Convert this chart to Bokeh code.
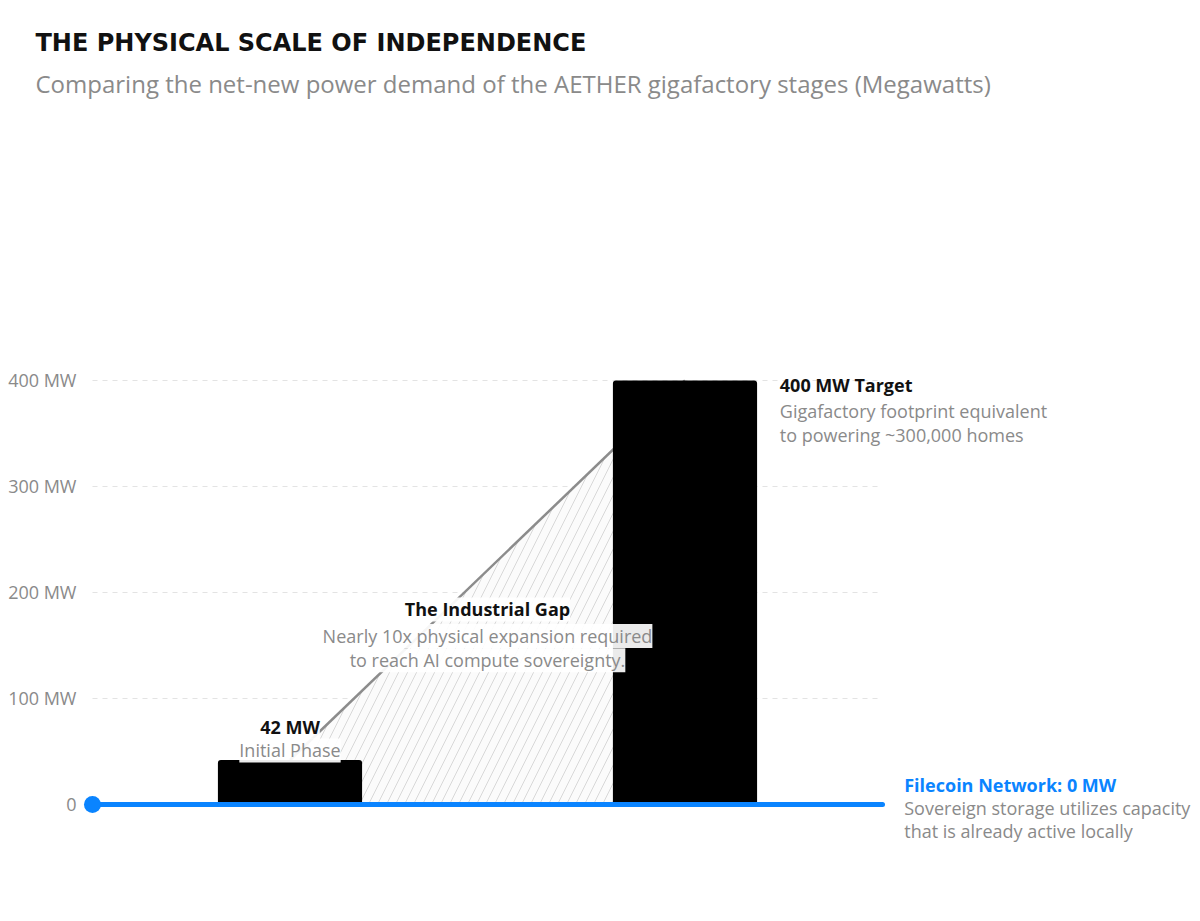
from bokeh.plotting import figure
from bokeh.models import Label, FixedTicker, Range1d, Title
from bokeh.embed import file_html
from bokeh.resources import INLINE

# --- data -------------------------------------------------------------
stages = ["Initial Phase", "400 MW Target"]
stage_x = [1, 3]
stage_mw = [42, 400]
filecoin_mw = 0
baseline_x = [0, 4]
tick_values = [0, 100, 200, 300, 400]
tick_labels = ["0", "100 MW", "200 MW", "300 MW", "400 MW"]

FONT = "Open Sans"
GRAY = "#8a8a8a"
BLUE = "#0a84ff"
SIZE = "18px"

p = figure(
    width=1200, height=921,
    x_range=Range1d(-0.0506, 5.6101), y_range=Range1d(-110.38, 635.85),
    output_backend="svg", toolbar_location=None,
    x_axis_location=None,
    min_border_left=82, min_border_right=0,
    min_border_top=130, min_border_bottom=0,
)
p.outline_line_color = None
p.title.visible = False

# heading (subtitle sits nearest the frame, main title above it)
p.add_layout(Title(text="Comparing the net-new power demand of the AETHER gigafactory stages (Megawatts)",
                   align="left", offset=-47, standoff=58, vertical_align="top",
                   text_font=FONT, text_font_size="24px", text_font_style="normal",
                   text_color=GRAY), "above")
p.add_layout(Title(text="THE PHYSICAL SCALE OF INDEPENDENCE",
                   align="left", offset=-47, standoff=-38,
                   text_font="DejaVu Sans", text_font_size="24px", text_font_style="bold",
                   text_color="#111111"), "above")

ax = p.yaxis[0]
ax.ticker = FixedTicker(ticks=tick_values)
ax.major_label_overrides = {v: s for v, s in zip(tick_values, tick_labels)}
ax.axis_line_color = None
ax.major_tick_line_color = None
ax.minor_tick_line_color = None
ax.major_label_text_font = FONT
ax.major_label_text_font_size = SIZE
ax.major_label_text_color = GRAY
ax.major_label_standoff = 0

p.xgrid.grid_line_color = None
p.ygrid.grid_line_color = "#e3e3e3"
p.ygrid.grid_line_dash = "5 5"
p.ygrid.grid_line_width = 1
p.ygrid.cross_bounds = (baseline_x[0], baseline_x[1])

# hatched gap between the two stages
gap_x = [stage_x[0], stage_x[0], stage_x[1], stage_x[1]]
gap_y = [0, stage_mw[0], stage_mw[1], 0]
p.patch(gap_x, gap_y, fill_color="#fbfbfb", line_color=None,
        hatch_pattern="/", hatch_color="#d8d8d8", hatch_weight=1, hatch_scale=18)
p.line(stage_x, stage_mw, line_color="#8c8c8c", line_width=2.5)

# stage bars
p.vbar(x=stage_x, top=stage_mw, bottom=0, width=0.73,
       fill_color="black", line_color=None, border_radius=3)

# Filecoin baseline at zero
p.line(baseline_x, [filecoin_mw, filecoin_mw], line_color=BLUE,
       line_width=5, line_cap="round")
p.scatter([baseline_x[0]], [filecoin_mw], size=17, fill_color=BLUE, line_color=None)


def add_label(x, y, text, color=GRAY, bold=False, align="left", halo=False):
    kw = {}
    if halo:
        kw.update(background_fill_color="white", background_fill_alpha=0.92, padding=0)
    p.add_layout(Label(x=x, y=y, text=text, text_font=FONT, text_font_size=SIZE,
                       text_color=color, text_font_style="bold" if bold else "normal",
                       text_align=align, text_baseline="middle", **kw))


# initial phase annotation
add_label(stage_x[0], stage_mw[0] + 31, f"{stage_mw[0]} MW", color="#111111",
          bold=True, align="center", halo=True)
add_label(stage_x[0], stage_mw[0] + 9, stages[0], align="center", halo=True)

# gap annotation
gx = (stage_x[0] + stage_x[1]) / 2
add_label(gx, 184, "The Industrial Gap", color="#111111", bold=True, align="center", halo=True)
add_label(gx, 159, "Nearly 10x physical expansion required", align="center", halo=True)
add_label(gx, 136, "to reach AI compute sovereignty.", align="center", halo=True)

# target annotation
tx = stage_x[1] + 0.48
add_label(tx, stage_mw[1] - 4, f"{stage_mw[1]} MW Target", color="#111111", bold=True)
add_label(tx, stage_mw[1] - 29, "Gigafactory footprint equivalent")
add_label(tx, stage_mw[1] - 51, "to powering ~300,000 homes")

# filecoin annotation
fx = baseline_x[1] + 0.11
add_label(fx, filecoin_mw + 18, f"Filecoin Network: {filecoin_mw} MW", color=BLUE, bold=True)
add_label(fx, filecoin_mw - 3, "Sovereign storage utilizes capacity")
add_label(fx, filecoin_mw - 25, "that is already active locally")

open("out.html", "w").write(file_html(p, INLINE))
